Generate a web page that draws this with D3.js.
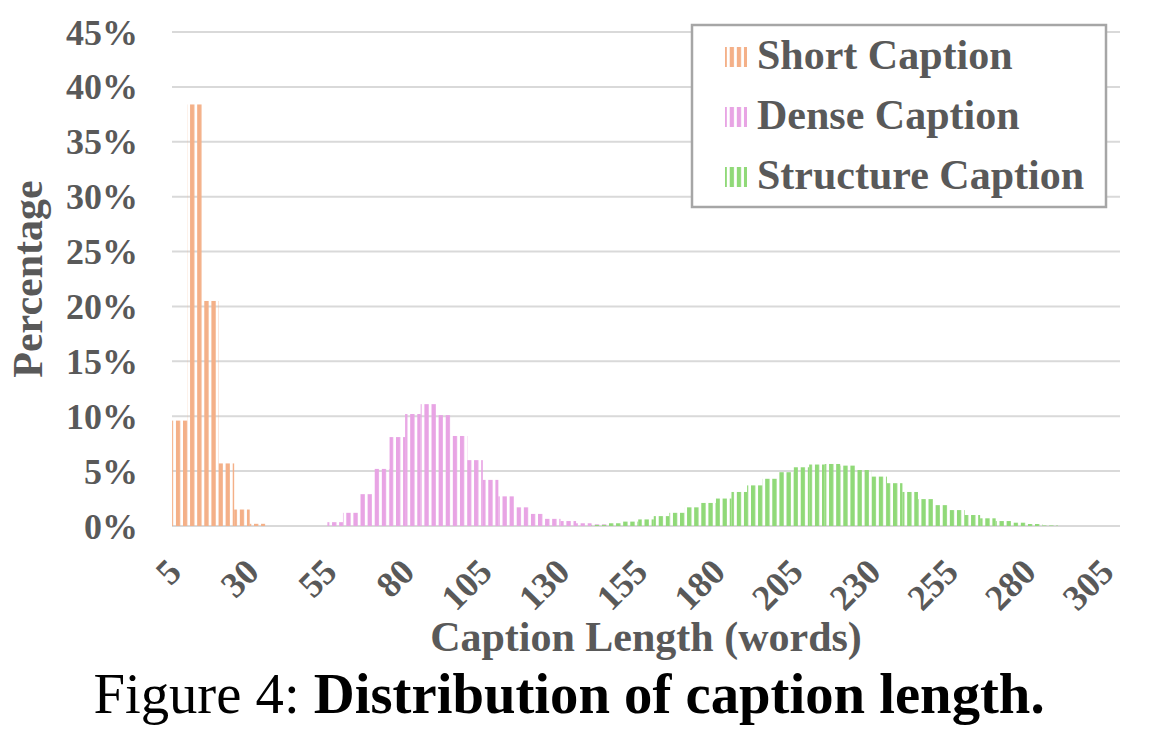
<!DOCTYPE html>
<html><head><meta charset="utf-8">
<script src="https://cdn.jsdelivr.net/npm/d3@7"></script>
<style>body{margin:0;background:#fff}svg{display:block}</style>
</head><body><svg id="c" width="1162" height="734"></svg>
<script>
const categories = [5,10,15,20,25,30,35,40,45,50,55,60,65,70,75,80,85,90,95,100,105,110,115,120,125,130,135,140,145,150,155,160,165,170,175,180,185,190,195,200,205,210,215,220,225,230,235,240,245,250,255,260,265,270,275,280,285,290,295,300,305];
const shortCaption = [9.6,38.4,20.5,5.7,1.5,0.2,0,0,0,0, 0,0,0,0,0,0,0,0,0,0, 0,0,0,0,0,0,0,0,0,0, 0,0,0,0,0,0,0,0,0,0, 0,0,0,0,0,0,0,0,0,0, 0,0,0,0,0,0,0,0,0,0, 0];
const denseCaption = [0,0,0,0,0,0,0,0,0,0, 0.35,1.2,2.9,5.2,8.1,10.2,11.1,10.1,8.2,6.0, 4.2,2.7,1.7,1.1,0.65,0.45,0.25,0.15,0.05,0, 0,0,0,0,0,0,0,0,0,0, 0,0,0,0,0,0,0,0,0,0, 0,0,0,0,0,0,0,0,0,0, 0];
const structureCaption = [0,0,0,0,0,0,0,0,0,0, 0,0,0,0,0,0,0,0,0,0, 0,0,0,0,0,0,0,0.1,0.25,0.4, 0.6,0.9,1.2,1.7,2.1,2.5,3.1,3.7,4.3,4.9, 5.35,5.6,5.65,5.5,5.1,4.5,3.9,3.1,2.45,1.9, 1.45,1.0,0.7,0.45,0.3,0.18,0.05,0,0,0, 0];
const seriesNames = ["Short Caption","Dense Caption","Structure Caption"];
const seriesColors = ["#F4B088","#E8A4E4","#90D978"];
const xTickLabels = [5,30,55,80,105,130,155,180,205,230,255,280,305];
const yTicks = [0,5,10,15,20,25,30,35,40,45];

const series = [shortCaption, denseCaption, structureCaption];
const svg = d3.select("#c");
const FONT = "'Liberation Serif','Times New Roman',serif";
const TXT = "#595959";

svg.append("rect").attr("width",1162).attr("height",734).attr("fill","#fff");

const x = d3.scaleBand().domain(categories).range([172,1120]).padding(0);
const y = d3.scaleLinear().domain([0,45]).range([526,32]);

const defs = svg.append("defs");
seriesColors.forEach((c,i)=>{
  const p = defs.append("pattern").attr("id","pat"+i)
    .attr("patternUnits","userSpaceOnUse").attr("width",7.1).attr("height",20).attr("x",5.5).attr("y",0);
  p.append("rect").attr("x",0).attr("y",0).attr("width",4.3).attr("height",20).attr("fill",c);
});

// gridlines
svg.append("g").selectAll("line").data(yTicks).join("line")
  .attr("x1",172).attr("x2",1120)
  .attr("y1",d=>y(d)).attr("y2",d=>y(d))
  .attr("stroke","#D9D9D9").attr("stroke-width",2);

// bars
series.forEach((vals,si)=>{
  svg.append("g").selectAll("rect").data(categories.map((c,i)=>({c,v:vals[i]})).filter(d=>d.v>0)).join("rect")
    .attr("x",d=>x(d.c)).attr("width",x.bandwidth())
    .attr("y",d=>y(d.v)).attr("height",d=>y(0)-y(d.v))
    .attr("fill","url(#pat"+si+")");
});

// y tick labels
svg.append("g").selectAll("text").data(yTicks).join("text")
  .attr("x",138).attr("y",d=>y(d)).attr("dy","0.35em")
  .attr("text-anchor","end")
  .attr("font-family",FONT).attr("font-weight","bold").attr("font-size",36)
  .attr("fill",TXT).text(d=>d+"%");

// x tick labels
svg.append("g").selectAll("text").data(xTickLabels).join("text")
  .attr("transform",d=>`translate(${x(d)+x.bandwidth()/2+3.5},574) rotate(-45)`)
  .attr("text-anchor","end")
  .attr("font-family",FONT).attr("font-weight","bold").attr("font-size",36)
  .attr("fill",TXT).text(d=>d);

// axis titles
svg.append("text").attr("transform","translate(42,279) rotate(-90)")
  .attr("text-anchor","middle").attr("font-family",FONT).attr("font-weight","bold")
  .attr("font-size",42).attr("fill",TXT).text("Percentage");
svg.append("text").attr("x",646).attr("y",651)
  .attr("text-anchor","middle").attr("font-family",FONT).attr("font-weight","bold")
  .attr("font-size",42).attr("fill",TXT).text("Caption Length (words)");

// legend
const lg = svg.append("g");
lg.append("rect").attr("x",692).attr("y",25).attr("width",414).attr("height",182)
  .attr("fill","#fff").attr("stroke","#A6A6A6").attr("stroke-width",2.5);
seriesNames.forEach((n,i)=>{
  lg.append("rect").attr("x",725).attr("y",47+i*60).attr("width",22).attr("height",20)
    .attr("fill","url(#pat"+i+")");
  lg.append("text").attr("x",757).attr("y",69+i*60)
    .attr("font-family",FONT).attr("font-weight","bold").attr("font-size",42)
    .attr("fill",TXT).text(n);
});

// caption
const cap = svg.append("text").attr("x",569).attr("y",713).attr("text-anchor","middle")
  .attr("font-family",FONT).attr("font-size",56.7).attr("fill","#000");
cap.append("tspan").text("Figure 4: ");
cap.append("tspan").attr("font-weight","bold").text("Distribution of caption length.");
</script></body></html>
